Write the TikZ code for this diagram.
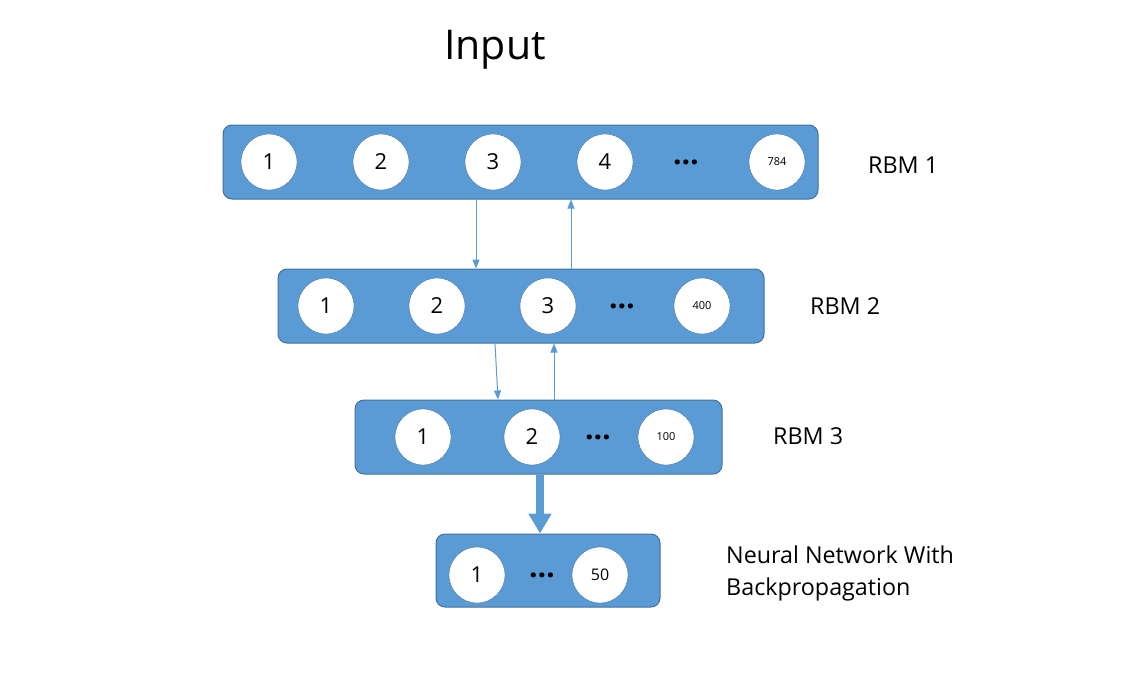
\documentclass[tikz,border=0pt]{standalone}
\usepackage{fontspec}
\setmainfont{Open Sans}
\usetikzlibrary{arrows.meta}
\definecolor{barfill}{HTML}{5B9BD5}
\definecolor{barline}{HTML}{41719C}
\tikzset{
  bar/.style={draw=barline, line width=1pt, fill=barfill, rounded corners=9pt, minimum height=74pt, inner sep=0pt},
  unit/.style={circle, fill=white, draw=barline, line width=0.4pt, minimum size=56pt, inner sep=0pt, font=\fontsize{22}{22}\selectfont},
  smallunit/.style={unit, font=\fontsize{11}{11}\selectfont},
  dots/.style={font=\fontsize{30}{30}\selectfont\bfseries, inner sep=0pt},
  lbl/.style={font=\fontsize{23.3}{32}\selectfont, inner sep=0pt},
  thin/.style={draw=barfill, line width=1pt, -{Triangle[width=7pt,length=9pt]}},
  thick/.style={draw=barfill, line width=8pt, -{Triangle[width=22pt,length=20pt]}}
}
\begin{document}
\begin{tikzpicture}[x=1pt,y=-1pt]
\useasboundingbox (0,0) rectangle (1137,699);
\node[lbl, font=\fontsize{41}{41}\selectfont] (title) at (495,50) {Input};
% bars
\node[bar, minimum width=595pt] (b1) at (520.5,162) {};
\node[bar, minimum width=486pt] (b2) at (521,306) {};
\node[bar, minimum width=367pt] (b3) at (538.5,437) {};
\node[bar, minimum width=224pt, minimum height=73pt] (b4) at (548,570.5) {};
% bar 1
\node[unit] (a1) at (269,162) {1};
\node[unit] (a2) at (381,162) {2};
\node[unit] (a3) at (493,162) {3};
\node[unit] (a4) at (605,162) {4};
\node[dots] (ad) at (686,162) {…};
\node[smallunit] (a5) at (777,162) {784};
% bar 2
\node[unit] (c1) at (326,306) {1};
\node[unit] (c2) at (437,306) {2};
\node[unit] (c3) at (548,306) {3};
\node[dots] (cd) at (622,306) {…};
\node[smallunit] (c5) at (702,306) {400};
% bar 3
\node[unit] (d1) at (423,437) {1};
\node[unit] (d2) at (532,437) {2};
\node[dots] (dd) at (598,437) {…};
\node[smallunit] (d5) at (666,437) {100};
% bar 4
\node[unit] (e1) at (477,575) {1};
\node[dots] (ed) at (542,575) {…};
\node[unit, font=\fontsize{16}{16}\selectfont] (e5) at (600,575) {50};
% labels
\node[lbl, anchor=west] (r1) at (868,165) {RBM 1};
\node[lbl, anchor=west] (r2) at (810,306) {RBM 2};
\node[lbl, anchor=west] (r3) at (773,436) {RBM 3};
\node[lbl, anchor=west, align=left] (r4) at (726,573) {Neural Network With\\Backpropagation};
% connectors
\draw[thin] (b1.south -| 476,0) -- (b2.north -| 476,0);
\draw[thin] (b2.north -| 571,0) -- (b1.south -| 571,0);
\draw[thin] (b2.south -| 495,0) -- (b3.north -| 498,0);
\draw[thin] (b3.north -| 554,0) -- (b2.south -| 554,0);
\draw[thick] (b3.south -| 540,0) -- (b4.north -| 540,0);
\end{tikzpicture}
\end{document}
